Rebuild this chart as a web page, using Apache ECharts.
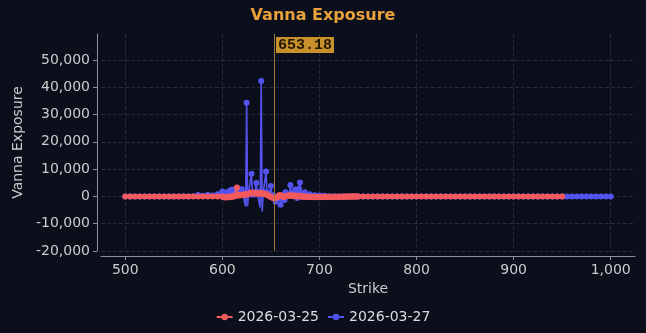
<!DOCTYPE html>
<html>
<head>
<meta charset="utf-8">
<script src="https://cdn.jsdelivr.net/npm/echarts@6/dist/echarts.min.js"></script>
<style>
html,body{margin:0;padding:0;background:#0b0f1b;}
#chart{width:646px;height:333px;}
</style>
</head>
<body>
<div id="chart"></div>
<script>
// ---- data ----
const seriesNames = ['2026-03-25', '2026-03-27'];
const spotPrice = 653.18;

const redStrikes = [
  500,505,510,515,520,525,530,535,540,545,550,555,560,565,570,575,580,585,590,595,
  600,601,602,603,604,605,606,607,608,609,
  610,611,612,613,614,615,616,617,618,619,
  620,621,622,623,624,625,626,627,628,629,
  630,631,632,633,634,635,636,637,638,639,
  640,641,642,643,644,645,646,647,648,649,
  650,651,652,653,654,655,656,657,658,659,
  660,661,662,663,664,665,666,667,668,669,
  670,671,672,673,674,675,676,677,678,679,
  680,681,682,683,684,685,686,687,688,689,
  690,691,692,693,694,695,696,697,698,699,
  700,701,702,703,704,705,706,707,708,709,
  710,711,712,713,714,715,716,717,718,719,
  720,721,722,723,724,725,726,727,728,729,
  730,731,732,733,734,735,736,737,738,739,
  740,
  745,750,755,760,765,770,775,780,785,790,795,800,805,810,815,820,825,830,835,840,
  845,850,855,860,865,870,875,880,885,890,895,900,905,910,915,920,925,930,935,940,
  945,950
];
const redValues = [
  0,0,0,0,0,0,0,0,0,0,0,0,0,0,0,0,0,0,0,0,
  0,-300,-200,-400,-200,-300,-100,-300,-200,100,
  -200,0,200,100,300,3300,400,300,500,400,
  600,500,700,600,800,700,900,1000,1100,1200,
  1400,1300,1200,1100,1300,1200,1000,1100,1200,1000,
  1300,1100,900,1000,800,900,600,400,200,0,
  -200,-400,-500,-600,-600,-500,-400,-200,200,500,
  400,200,0,-200,-100,100,200,100,300,200,
  400,200,300,100,200,300,100,0,200,100,
  200,0,-100,100,-100,0,-200,-100,0,-100,
  -200,-100,-200,-100,-200,-300,-200,-100,-200,-300,
  -200,-200,-100,-200,-300,-200,-100,-200,-100,-200,
  -100,-100,-200,-100,-100,-200,-100,-100,-100,-200,
  -100,-100,-100,-100,-100,0,-100,0,-100,0,
  0,-100,0,0,0,0,0,0,0,0,
  0,
  0,0,0,0,0,0,0,0,0,0,0,0,0,0,0,0,0,0,0,0,
  0,0,0,0,0,0,0,0,0,0,0,0,0,0,0,0,0,0,0,0,
  0,0
];

const blueStrikes = [
  500,505,510,515,520,525,530,535,540,545,550,555,560,565,570,575,580,585,590,595,
  600,601,602,603,604,605,606,607,608,609,
  610,611,612,613,614,615,616,617,618,619,
  620,621,622,623,624,625,626,627,628,629,
  630,631,632,633,634,635,636,637,638,639,
  640,641,642,643,644,645,646,647,648,649,
  650,651,652,653,654,655,656,657,658,659,
  660,661,662,663,664,665,666,667,668,669,
  670,671,672,673,674,675,676,677,678,679,
  680,681,682,683,684,685,686,687,688,689,
  690,691,692,693,694,695,696,697,698,699,
  700,
  705,710,715,720,725,730,735,740,745,750,755,760,765,770,775,780,785,790,795,800,
  805,810,815,820,825,830,835,840,845,850,855,860,865,870,875,880,885,890,895,900,
  905,910,915,920,925,930,935,940,945,950,955,960,965,970,975,980,985,990,995,1000
];
const blueValues = [
  0,0,0,0,0,0,0,0,0,0,0,0,100,0,100,500,200,600,300,800,
  1800,300,600,200,400,1500,300,500,2200,400,
  2500,500,1200,600,400,1800,600,900,700,500,
  2600,800,1200,700,-3700,34300,-3600,1400,1000,800,
  8300,600,1500,700,1000,4900,900,1600,800,-4100,
  42300,-5500,1200,800,1500,9100,700,1400,600,900,
  3800,400,300,200,-300,-2000,-500,-800,-300,-600,
  -3100,-400,200,-500,-1300,1500,300,500,800,400,
  4200,600,900,700,1500,2500,600,-600,1200,2800,
  5100,600,1200,500,300,1500,200,400,300,200,
  800,100,200,100,50,400,100,50,100,50,
  300,
  200,100,100,0,0,0,0,0,0,0,0,0,0,0,0,0,0,0,0,0,
  0,0,0,0,0,0,0,0,0,0,0,0,0,0,0,0,0,0,0,0,
  0,0,0,0,0,0,0,0,0,0,0,0,0,0,0,0,0,0,0,0
];

// axis settings
const xMin = 475, xMax = 1025;
const yMin = -20000, yMax = 59500, yStep = 10000;

// ---- build ----
const pair = (xs, ys) => xs.map((x, i) => [x, ys[i]]);
const FONT = 'DejaVu Sans';
const RED = '#f25a5d', BLUE = '#5553ef';

const chart = echarts.init(document.getElementById('chart'), null, {renderer: 'canvas'});
chart.setOption({
  backgroundColor: '#0b0f1b',
  animation: false,
  title: {
    text: 'Vanna Exposure',
    left: 'center',
    top: 3,
    textStyle: {color: '#e9a23b', fontSize: 16, fontWeight: 'bold', fontFamily: FONT}
  },
  legend: {
    data: seriesNames,
    bottom: 4,
    left: 'center',
    itemWidth: 16,
    itemHeight: 8,
    itemGap: 8,
    textStyle: {color: '#dddddd', fontSize: 14, fontFamily: FONT}
  },
  grid: {left: 101, right: 11, top: 34, bottom: 82},
  xAxis: {
    type: 'value',
    min: xMin, max: xMax,
    offset: 5,
    name: 'Strike',
    nameLocation: 'middle',
    nameGap: 26,
    nameTextStyle: {color: '#cccccc', fontSize: 14, fontFamily: FONT},
    axisLine: {show: true, onZero: false, lineStyle: {color: '#8a8f99'}},
    axisTick: {show: true, length: 4, lineStyle: {color: '#8a8f99'}},
    axisLabel: {color: '#cccccc', fontSize: 14, fontFamily: FONT, margin: 7, showMinLabel: false, showMaxLabel: false},
    splitLine: {show: true, showMinLine: false, showMaxLine: false, lineStyle: {color: '#262c3b', type: 'dashed'}}
  },
  yAxis: {
    type: 'value',
    min: yMin, max: yMax, interval: yStep,
    offset: 4,
    name: 'Vanna Exposure',
    nameLocation: 'middle',
    nameGap: 64,
    nameTextStyle: {color: '#cccccc', fontSize: 14, fontFamily: FONT},
    axisLine: {show: true, onZero: false, lineStyle: {color: '#8a8f99'}},
    axisTick: {show: true, length: 4, lineStyle: {color: '#8a8f99'}},
    axisLabel: {color: '#cccccc', fontSize: 14, fontFamily: FONT, margin: 7, showMaxLabel: false},
    splitLine: {show: true, showMaxLine: false, lineStyle: {color: '#262c3b', type: 'dashed'}}
  },
  series: [
    {
      name: seriesNames[1],
      type: 'line',
      data: pair(blueStrikes, blueValues),
      color: BLUE,
      symbol: (v) => (v[1] < -3300 ? 'none' : 'circle'),
      symbolSize: 6,
      lineStyle: {width: 1.6, color: BLUE},
      itemStyle: {color: BLUE},
      z: 2,
      markLine: {
        silent: true,
        symbol: ['none', 'none'],
        label: {show: false},
        lineStyle: {color: '#9c7736', width: 1, type: 'solid'},
        data: [{xAxis: spotPrice}]
      },
      markPoint: {
        silent: true,
        symbol: 'rect',
        symbolSize: 0,
        data: [{coord: [spotPrice, yMax], value: spotPrice}],
        label: {
          show: true,
          position: [2, 3],
          formatter: String(spotPrice),
          color: '#241803',
          fontFamily: 'Liberation Mono',
          fontWeight: 'bold',
          fontSize: 15,
          backgroundColor: '#c8902b',
          padding: [1, 2, 0, 2]
        }
      }
    },
    {
      name: seriesNames[0],
      type: 'line',
      data: pair(redStrikes, redValues),
      color: RED,
      symbol: 'circle',
      symbolSize: 6,
      lineStyle: {width: 1.5, color: RED},
      itemStyle: {color: RED},
      z: 3
    }
  ]
});
</script>
</body>
</html>
